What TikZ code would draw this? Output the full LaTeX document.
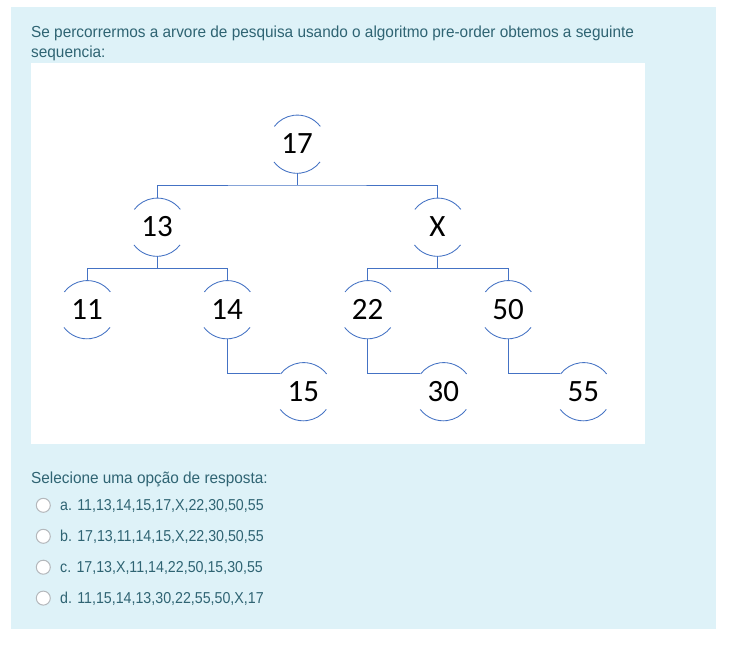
\documentclass[tikz,border=0pt]{standalone}
\usepackage{fontspec}
\setmainfont{Liberation Sans}
\newfontfamily\pfont[FakeStretch=0.96]{Liberation Sans}
\newfontfamily\ofont[FakeStretch=0.9]{Liberation Sans}
\newfontfamily\tfont{Carlito}
\usetikzlibrary{calc}
\definecolor{panelbg}{HTML}{DEF2F8}
\definecolor{paneltext}{HTML}{2F6473}
\definecolor{treeblue}{HTML}{4472C4}
\definecolor{radiogray}{HTML}{B4B8BC}
\begin{document}
\begin{tikzpicture}[x=1pt,y=-1pt,
  tl/.style={draw=treeblue, line width=0.85pt},
  tnode/.style={circle, minimum size=58pt, inner sep=0pt, font=\fontsize{31}{31}\selectfont\tfont, text=black},
  prose/.style={anchor=base west, inner sep=0pt, text=paneltext, font=\fontsize{16}{19}\selectfont\pfont},
  opt/.style={anchor=base west, inner sep=0pt, text=paneltext, font=\fontsize{15.8}{19}\selectfont\ofont},
  radio/.style={circle, draw=radiogray, fill=white, line width=1pt, minimum size=14pt, inner sep=0pt}
]
\useasboundingbox (0,0) rectangle (736,650);
\fill[white] (0,0) rectangle (736,650);
\fill[panelbg] (11,7) rectangle (716,629);
\fill[white] (31,62.7) rectangle (645,443.5);

\node[prose] (t1) at (31,37.5) {Se percorrermos a arvore de pesquisa usando o algoritmo pre-order obtemos a seguinte};
\node[prose] (t2) at (31,57.5) {sequencia:};

% tree nodes
\node[tnode] (n17) at (297,144) {17};
\node[tnode] (n13) at (157,227) {13};
\node[tnode] (nX) at (437.5,227) {X};
\node[tnode] (n11) at (87,309.5) {11};
\node[tnode] (n14) at (227,309.5) {14};
\node[tnode] (n22) at (367.7,309.5) {22};
\node[tnode] (n50) at (508,309.5) {50};
\node[tnode] (n15) at (303.3,391.5) {15};
\node[tnode] (n30) at (443.3,391.5) {30};
\node[tnode] (n55) at (583.3,391.5) {55};

\foreach \n in {n17,n13,nX,n11,n14,n22,n50,n15,n30,n55} {
  \draw[tl] (\n.37.5) arc[start angle=37.5, end angle=142.5, radius=29pt];
  \draw[tl] (\n.-142.5) arc[start angle=-142.5, end angle=-37.5, radius=29pt];
}

\coordinate (b1) at (297,185);
\coordinate (b2) at (157,268.5);
\coordinate (b3) at (437.5,268.5);
\draw[tl] (n17.south) -- (b1);
\draw[tl] (n13.north) |- (b1) -| (nX.north);
\draw[tl] (n13.south) -- (b2);
\draw[tl] (n11.north) |- (b2) -| (n14.north);
\draw[tl] (nX.south) -- (b3);
\draw[tl] (n22.north) |- (b3) -| (n50.north);
\draw[tl] (n14.south) |- (n15.142.5);
\draw[tl] (n22.south) |- (n30.142.5);
\draw[tl] (n50.south) |- (n55.142.5);

\node[prose] (sel) at (31,483.3) {Selecione uma opção de resposta:};

\node[radio] (ra) at (43.3,505.3) {};
\node[radio] (rb) at (43.3,536.3) {};
\node[radio] (rc) at (43.3,567.2) {};
\node[radio] (rd) at (43.3,598.1) {};
\node[opt] (oa) at (60,510.7) {a. 11,13,14,15,17,X,22,30,50,55};
\node[opt] (ob) at (60,541.7) {b. 17,13,11,14,15,X,22,30,50,55};
\node[opt] (oc) at (60,572.4) {c. 17,13,X,11,14,22,50,15,30,55};
\node[opt] (od) at (60,603.3) {d. 11,15,14,13,30,22,55,50,X,17};
\end{tikzpicture}
\end{document}
